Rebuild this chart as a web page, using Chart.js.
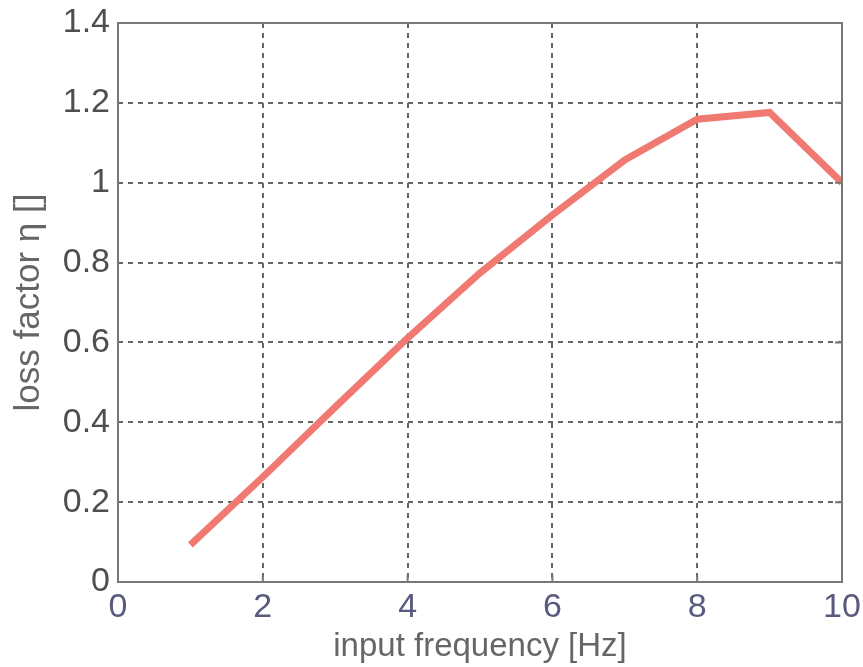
<!DOCTYPE html>
<html>
<head>
<meta charset="utf-8">
<script src="https://cdn.jsdelivr.net/npm/chart.js@4/dist/chart.umd.min.js"></script>
<style>
  html, body { margin: 0; padding: 0; background: #fff; }
  #wrap { width: 863px; height: 667px; }
</style>
</head>
<body>
<div id="wrap"><canvas id="lossChart" width="863" height="667"></canvas></div>
<script>
const frequencies = [1, 2, 3, 4, 5, 6, 7, 8, 9, 10];
const lossFactor = [0.093, 0.263, 0.438, 0.611, 0.774, 0.919, 1.057, 1.159, 1.176, 1.0];
const xTicks = [0, 2, 4, 6, 8, 10];
const yTicks = [0, 0.2, 0.4, 0.6, 0.8, 1, 1.2, 1.4];

// box around the plot plus short inward ticks on the right and bottom edges
const boxPlugin = {
    id: 'box',
    afterDraw(chart) {
        const { ctx, chartArea: a, scales } = chart;
        ctx.save();
        ctx.strokeStyle = '#777';
        ctx.lineWidth = 2;
        ctx.setLineDash([]);
        ctx.strokeRect(a.left, a.top, a.right - a.left, a.bottom - a.top);
        ctx.beginPath();
        yTicks.forEach(v => {
            const y = scales.y.getPixelForValue(v);
            ctx.moveTo(a.right, y);
            ctx.lineTo(a.right - 7, y);
        });
        xTicks.forEach(v => {
            const x = scales.x.getPixelForValue(v);
            ctx.moveTo(x, a.bottom);
            ctx.lineTo(x, a.bottom - 7);
        });
        ctx.stroke();
        ctx.restore();
    }
};

const ctx = document.getElementById('lossChart').getContext('2d');
new Chart(ctx, {
    type: 'line',
    data: {
        datasets: [{
            data: frequencies.map((f, i) => ({ x: f, y: lossFactor[i] })),
            borderColor: '#f07a72',
            borderWidth: 7,
            pointRadius: 0,
            tension: 0,
            fill: false
        }]
    },
    options: {
        responsive: false,
        animation: false,
        layout: { padding: { top: 23, right: 21, left: 0, bottom: 0 } },
        plugins: { legend: { display: false }, tooltip: { enabled: false } },
        scales: {
            x: {
                type: 'linear',
                min: 0,
                max: 10,
                afterBuildTicks: s => { s.ticks = xTicks.map(v => ({ value: v })); },
                afterFit: s => { s.height = 85; s.paddingLeft = 0; s.paddingRight = 0; },
                grid: {
                    color: '#666',
                    lineWidth: 2,
                    drawTicks: false
                },
                border: { display: false, dash: [5, 5] },
                ticks: {
                    color: '#5a5a7e',
                    padding: 5,
                    font: { family: 'Liberation Sans', size: 34 },
                    maxRotation: 0
                },
                title: {
                    display: true,
                    text: 'input frequency [Hz]',
                    color: '#666',
                    font: { family: 'Liberation Sans', size: 33 },
                    padding: { top: 0, bottom: 0 }
                }
            },
            y: {
                min: 0,
                max: 1.4,
                afterBuildTicks: s => { s.ticks = yTicks.map(v => ({ value: v })); },
                afterFit: s => { s.width = 118; s.paddingTop = 0; s.paddingBottom = 0; },
                grid: {
                    color: '#666',
                    lineWidth: 2,
                    drawTicks: false
                },
                border: { display: false, dash: [5, 5] },
                ticks: {
                    color: '#4e4e4e',
                    padding: 8,
                    font: { family: 'Liberation Sans', size: 34 },
                    callback: v => String(+v.toFixed(1))
                },
                title: {
                    display: true,
                    text: 'loss factor η []',
                    color: '#666',
                    font: { family: 'Liberation Sans', size: 35 },
                    padding: { top: 8, bottom: 0 }
                }
            }
        }
    },
    plugins: [boxPlugin]
});
</script>
</body>
</html>
